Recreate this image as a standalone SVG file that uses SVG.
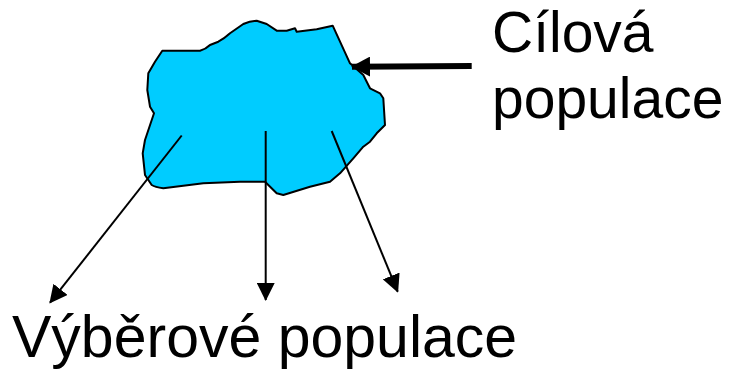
<svg xmlns="http://www.w3.org/2000/svg" width="731" height="370" viewBox="0 0 731 370">
<style>
.lbl{font-family:"Liberation Sans",Arial,sans-serif;font-size:57px;fill:#000}
.conn{stroke:#000;stroke-width:2;fill:none}
.thick{stroke-width:6}
</style>
<defs>
<marker id="ah" markerWidth="18" markerHeight="18" viewBox="0 0 18 18" refX="17" refY="9" orient="auto" markerUnits="userSpaceOnUse">
<path d="M0,0 L18,9 L0,18 Z" fill="#000"/>
</marker>
<marker id="ahb" markerWidth="19" markerHeight="20" viewBox="0 0 19 20" refX="18" refY="10" orient="auto" markerUnits="userSpaceOnUse">
<path d="M0,0 L19,10 L0,20 Z" fill="#000"/>
</marker>
</defs>
<rect width="731" height="370" fill="#fff"/>
<g id="cilova-populace">
<path d="M162.3,50.7 L200,50.7 Q206,49 210,45 L218.3,41.7 Q225,38 230,33.3 L243.3,24 Q250,21 256.7,20.7 L266.7,24 L276.7,30.7 L286.7,30.7 L295,28.3 L296.7,31.7 L316.7,29.3 L332.7,25.7 L350,63.3 L363.3,75 L370,88.3 L380,93.3 L383.3,98.3 L385,125 L376.7,133.3 L370,141.7 L363.3,146.7 L353.3,158.3 L340,173.3 L330,181.7 L310,186.7 L283.3,195 L276.7,193.3 L265,181.7 L240,181.7 L203.3,183.3 L163.3,188.3 Q155,187 151.7,185 L145,175 L142.7,153.3 L145,140 L154,113.3 L150,106.7 L147.3,90 L148.3,73.3 L155,61.7 Z" fill="#00ccff" stroke="#000" stroke-width="2" stroke-linejoin="round"/>
</g>
<g id="label-cilova">
<text class="lbl" x="492" y="52">Cílová</text>
<text class="lbl" x="492" y="118">populace</text>
</g>
<g id="label-vyberove">
<text class="lbl" x="12" y="357" style="font-size:59px">Výběrové populace</text>
</g>
<g id="connectors">
<line class="conn thick" x1="471.7" y1="66" x2="352" y2="66.7" marker-end="url(#ahb)"/>
<line class="conn" x1="181.7" y1="135.5" x2="50" y2="302.7" marker-end="url(#ah)"/>
<line class="conn" x1="265.7" y1="131" x2="265.7" y2="300" marker-end="url(#ah)"/>
<line class="conn" x1="331.7" y1="131" x2="397.7" y2="291.7" marker-end="url(#ah)"/>
</g>
</svg>
